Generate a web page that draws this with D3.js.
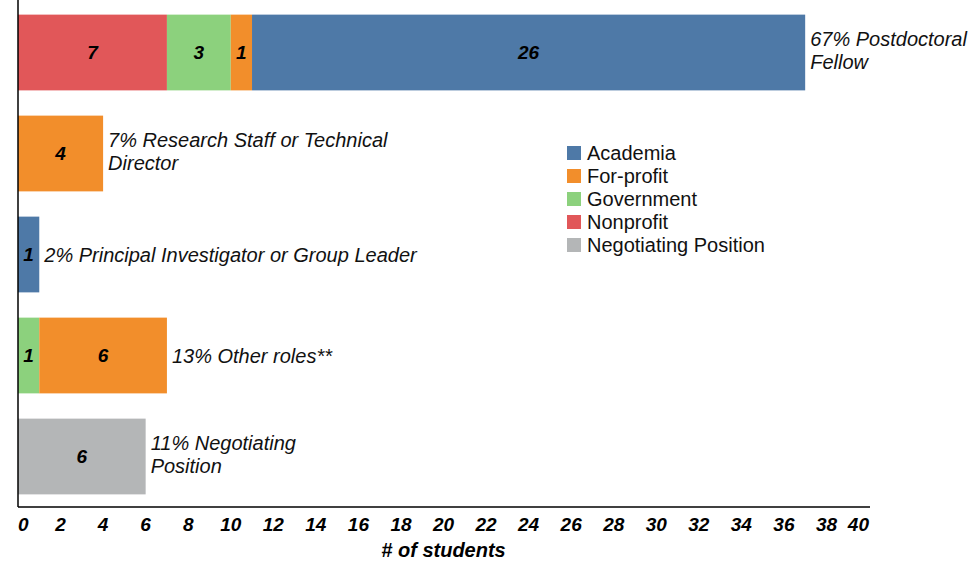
<!DOCTYPE html>
<html>
<head>
<meta charset="utf-8">
<script src="https://cdn.jsdelivr.net/npm/d3@7"></script>
<style>
  body { margin: 0; background: #fff; }
  svg { font-family: Arial, "Liberation Sans", sans-serif; }
</style>
</head>
<body>
<svg id="chart" width="973" height="573"></svg>
<script>
// rows, top to bottom
var roles = ["Postdoc", "Research", "PI", "Other", "Negotiating"];
var roleLabels = [
  ["67% Postdoctoral", "Fellow"],
  ["7% Research Staff or Technical", "Director"],
  ["2% Principal Investigator or Group Leader"],
  ["13% Other roles**"],
  ["11% Negotiating", "Position"]
];

// students per sector, one value per row
var nonprofit   = [7, 0, 0, 0, 0];
var government  = [3, 0, 0, 1, 0];
var forProfit   = [1, 4, 0, 6, 0];
var academia    = [26, 0, 1, 0, 0];
var negotiating = [0, 0, 0, 0, 6];

var xTicks = [0, 2, 4, 6, 8, 10, 12, 14, 16, 18, 20, 22, 24, 26, 28, 30, 32, 34, 36, 38, 40];

// legend order
var legendKeys = ["Academia", "For-profit", "Government", "Nonprofit", "Negotiating Position"];
// stacking order, left to right
var stackKeys = ["Nonprofit", "Government", "For-profit", "Academia", "Negotiating Position"];

var colors = {
  "Academia": "#4e79a7",
  "For-profit": "#f28e2b",
  "Government": "#8cd17d",
  "Nonprofit": "#e15759",
  "Negotiating Position": "#b4b6b7"
};

var table = roles.map(function(r, i) {
  return {
    role: r,
    "Nonprofit": nonprofit[i],
    "Government": government[i],
    "For-profit": forProfit[i],
    "Academia": academia[i],
    "Negotiating Position": negotiating[i]
  };
});

var svg = d3.select("#chart");

var x = d3.scaleLinear().domain([0, 40]).range([18, 869]);
var y = d3.scaleBand().domain(roles).range([2, 507]).paddingInner(0.25).paddingOuter(0.125);

var series = d3.stack().keys(stackKeys)(table);

var groups = svg.selectAll("g.series")
  .data(series)
  .enter().append("g")
  .attr("class", "series")
  .attr("fill", function(d) { return colors[d.key]; });

groups.selectAll("rect")
  .data(function(d) { return d.filter(function(s) { return s[1] - s[0] > 0; }); })
  .enter().append("rect")
  .attr("x", function(d) { return x(d[0]); })
  .attr("y", function(d) { return y(d.data.role); })
  .attr("width", function(d) { return x(d[1]) - x(d[0]); })
  .attr("height", y.bandwidth());

// numbers inside the segments
groups.selectAll("text")
  .data(function(d) { return d.filter(function(s) { return s[1] - s[0] > 0; }); })
  .enter().append("text")
  .attr("x", function(d) { return (x(d[0]) + x(d[1])) / 2; })
  .attr("y", function(d) { return y(d.data.role) + y.bandwidth() / 2; })
  .attr("dy", "0.36em")
  .attr("text-anchor", "middle")
  .attr("fill", "#000")
  .style("font-size", "19px")
  .style("font-weight", "bold")
  .style("font-style", "italic")
  .text(function(d) { return d[1] - d[0]; });

// role labels right of each bar
var totals = table.map(function(d) {
  return d3.sum(stackKeys, function(k) { return d[k]; });
});

var labels = svg.selectAll("text.role")
  .data(roles)
  .enter().append("text")
  .attr("class", "role")
  .attr("x", function(d, i) { return x(totals[i]) + 5; })
  .attr("y", function(d, i) {
    var mid = y(d) + y.bandwidth() / 2;
    return roleLabels[i].length > 1 ? mid - 2 : mid;
  })
  .style("font-size", "20px")
  .style("font-style", "italic")
  .attr("fill", "#111");

labels.each(function(d, i) {
  var lines = roleLabels[i];
  var t = d3.select(this);
  var x0 = t.attr("x");
  lines.forEach(function(line, j) {
    t.append("tspan")
      .attr("x", x0)
      .attr("dy", j === 0 ? (0.36 - (lines.length - 1) * 0.575) + "em" : "1.15em")
      .text(line);
  });
});

// axes lines
svg.append("line")
  .attr("x1", x(0)).attr("x2", x(0))
  .attr("y1", 0).attr("y2", 507)
  .attr("stroke", "#000").attr("stroke-width", 1.5);

svg.append("line")
  .attr("x1", x(0)).attr("x2", x(40) + 1)
  .attr("y1", 507).attr("y2", 507)
  .attr("stroke", "#000").attr("stroke-width", 1.5);

svg.selectAll("text.tick")
  .data(xTicks)
  .enter().append("text")
  .attr("class", "tick")
  .attr("x", function(d) { return x(d); })
  .attr("y", 531)
  .attr("text-anchor", function(d, i) {
    if (i === 0) return "start";
    if (i === xTicks.length - 1) return "end";
    return "middle";
  })
  .style("font-size", "19px")
  .style("font-weight", "bold")
  .style("font-style", "italic")
  .text(function(d) { return d; });

svg.append("text")
  .attr("x", (x(0) + x(40)) / 2)
  .attr("y", 557)
  .attr("text-anchor", "middle")
  .style("font-size", "20px")
  .style("font-weight", "bold")
  .style("font-style", "italic")
  .text("# of students");

// legend
var legend = svg.selectAll("g.legend")
  .data(legendKeys)
  .enter().append("g")
  .attr("class", "legend")
  .attr("transform", function(d, i) { return "translate(567," + (146 + i * 23) + ")"; });

legend.append("rect")
  .attr("width", 14)
  .attr("height", 14)
  .attr("fill", function(d) { return colors[d]; });

legend.append("text")
  .attr("x", 20)
  .attr("y", 7)
  .attr("dy", "0.36em")
  .style("font-size", "20px")
  .attr("fill", "#111")
  .text(function(d) { return d; });
</script>
</body>
</html>
